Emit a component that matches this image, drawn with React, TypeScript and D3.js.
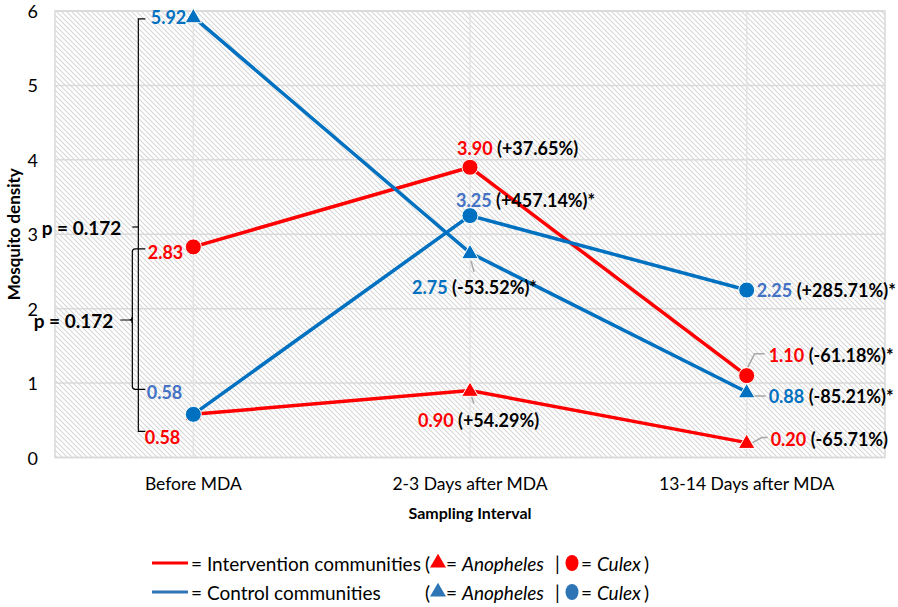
import React from "react";
import * as d3 from "d3";

const categories = ["Before MDA", "2-3 Days after MDA", "13-14 Days after MDA"];

const interventionAnopheles = [0.58, 0.9, 0.2];
const interventionCulex = [2.83, 3.9, 1.1];
const controlAnopheles = [5.92, 2.75, 0.88];
const controlCulex = [0.58, 3.25, 2.25];

const interventionAnophelesPct = ["", "(+54.29%)", "(-65.71%)"];
const interventionCulexPct = ["", "(+37.65%)", "(-61.18%)*"];
const controlAnophelesPct = ["", "(-53.52%)*", "(-85.21%)*"];
const controlCulexPct = ["", "(+457.14%)*", "(+285.71%)*"];

const yTicks = [0, 1, 2, 3, 4, 5, 6];
const pLabel = "p = 0.172";

const W = 898;
const H = 607;
const FONT = "Lato, 'Open Sans', sans-serif";
const RED = "#ff0000";
const BLUE = "#0070c0";
const LIGHT_BLUE = "#4472c4";

type Label = { dx: number; dy: number; anchor: "start" | "end"; leader?: [number, number][] };

// label offsets relative to the point, per series and category
const labelsIA: Label[] = [
  { dx: -13, dy: 23, anchor: "end" },
  { dx: -52, dy: 29, anchor: "start", leader: [[1, 5], [4, 13]] },
  { dx: 24, dy: -4, anchor: "start", leader: [[6, 0], [15, -5], [21, -5]] },
];
const labelsIC: Label[] = [
  { dx: -10, dy: 5, anchor: "end" },
  { dx: -13, dy: -19, anchor: "start" },
  { dx: 22, dy: -21, anchor: "start", leader: [[1, -8], [8, -22], [18, -22]] },
];
const labelsCA: Label[] = [
  { dx: -7, dy: 0, anchor: "end" },
  { dx: -58, dy: 34, anchor: "start", leader: [[1, 8], [4, 19]] },
  { dx: 22, dy: 4, anchor: "start", leader: [[6, 4], [19, 4]] },
];
const labelsCC: Label[] = [
  { dx: -11, dy: -22, anchor: "end" },
  { dx: -14, dy: -16, anchor: "start" },
  { dx: 10, dy: 0, anchor: "start" },
];

const App = () => {
  const margin = { left: 55, right: 13, top: 11, bottom: 149.5 };
  const x = d3
    .scalePoint<string>()
    .domain(categories)
    .range([margin.left, W - margin.right])
    .padding(0.5);
  const y = d3.scaleLinear().domain([0, 6]).range([H - margin.bottom, margin.top]);
  const x0 = margin.left;
  const x1 = W - margin.right;

  const line = d3
    .line<number>()
    .x((_, i) => x(categories[i]) as number)
    .y((d) => y(d));

  const series = [
    { values: interventionAnopheles, pct: interventionAnophelesPct, color: RED, labelColor: RED, shape: "tri", labels: labelsIA },
    { values: interventionCulex, pct: interventionCulexPct, color: RED, labelColor: RED, shape: "circle", labels: labelsIC },
    { values: controlAnopheles, pct: controlAnophelesPct, color: BLUE, labelColor: BLUE, shape: "tri", labels: labelsCA },
    { values: controlCulex, pct: controlCulexPct, color: BLUE, labelColor: LIGHT_BLUE, shape: "circle", labels: labelsCC },
  ];

  const tri = d3.symbol().type(d3.symbolTriangle).size(120);

  // brackets for the p-values
  const bx = x(categories[0]) as number;
  const big = { top: y(controlAnopheles[0]) + 2, bottom: y(interventionAnopheles[0]) + 17, vx: bx - 55 };
  const small = { top: y(interventionCulex[0]) + 2, bottom: y(controlCulex[0]) - 25, vx: bx - 61 };
  const bigMid = 227;
  const smallMid = 320;

  return (
    <svg width={W} height={H} style={{ position: "absolute", left: 0, top: 0, fontFamily: FONT }}>
      <defs>
        <pattern id="hatch" width="5" height="5" patternUnits="userSpaceOnUse">
          <path d="M-1,4 l2,2 M0,0 l5,5 M4,-1 l2,2" stroke="#d6d6d6" strokeWidth="1.1" />
        </pattern>
      </defs>
      <rect x={0} y={0} width={W} height={H} fill="#fff" />
      <rect x={x0} y={y(6)} width={x1 - x0} height={y(0) - y(6)} fill="url(#hatch)" />

      {yTicks.map((t) => (
        <line key={"g" + t} x1={x0} x2={x1} y1={y(t)} y2={y(t)} stroke="#dadada" strokeWidth={1.5} />
      ))}
      {categories.map((c) => (
        <line key={"v" + c} x1={x(c)} x2={x(c)} y1={y(6)} y2={y(0)} stroke="#e3e3e3" strokeWidth={1.5} />
      ))}
      <rect x={x0} y={y(6)} width={x1 - x0} height={y(0) - y(6)} fill="none" stroke="#d9d9d9" strokeWidth={1.5} />

      {yTicks.map((t) => (
        <text key={"yt" + t} x={38} y={y(t)} textAnchor="end" dominantBaseline="central" fontSize={18} fill="#000">
          {t}
        </text>
      ))}
      {categories.map((c) => (
        <text key={"xt" + c} x={x(c)} y={483} textAnchor="middle" dominantBaseline="central" fontSize={17.5} fill="#000">
          {c}
        </text>
      ))}
      <text
        transform={`translate(13,${(y(0) + y(6)) / 2}) rotate(-90)`}
        textAnchor="middle"
        dominantBaseline="central"
        fontSize={17}
        fontWeight="bold"
      >
        Mosquito density
      </text>
      <text x={(x0 + x1) / 2} y={512} textAnchor="middle" dominantBaseline="central" fontSize={16} fontWeight="bold">
        Sampling Interval
      </text>

      {/* brackets */}
      <g stroke="#000" strokeWidth={1.2} fill="none">
        <path d={`M${big.vx + 7},${big.top} H${big.vx} V${big.bottom} H${big.vx + 7}`} />
        <path d={`M${big.vx},${bigMid} H${big.vx - 6}`} />
        <path d={`M${small.vx + 13},${small.top} H${small.vx + 3} Q${small.vx},${small.top} ${small.vx},${small.top + 3} V${small.bottom - 3} Q${small.vx},${small.bottom} ${small.vx + 3},${small.bottom} H${small.vx + 13}`} />
        <path d={`M${small.vx},${smallMid - 3} Q${small.vx},${smallMid} ${small.vx - 3},${smallMid} H${small.vx - 12} M${small.vx - 3},${smallMid} Q${small.vx},${smallMid} ${small.vx},${smallMid + 3}`} />
      </g>

      {series.map((s, si) => (
        <path key={"l" + si} d={line(s.values) || ""} fill="none" stroke={s.color} strokeWidth={3.5} />
      ))}

      {/* leader lines */}
      {series.map((s, si) =>
        s.labels.map((lb, i) =>
          lb.leader ? (
            <polyline
              key={`ld${si}-${i}`}
              points={lb.leader.map(([dx, dy]) => `${(x(categories[i]) as number) + dx},${y(s.values[i]) + dy}`).join(" ")}
              fill="none"
              stroke="#a6a6a6"
              strokeWidth={1.5}
            />
          ) : null
        )
      )}

      {series.map((s, si) =>
        s.values.map((v, i) =>
          s.shape === "circle" ? (
            <circle key={`m${si}-${i}`} cx={x(categories[i])} cy={y(v)} r={8} fill={s.color} stroke="#fff" strokeWidth={1} />
          ) : (
            <path
              key={`m${si}-${i}`}
              d={tri() || ""}
              transform={`translate(${x(categories[i])},${y(v) + 1})`}
              fill={s.color}
              stroke="#fff"
              strokeWidth={1}
            />
          )
        )
      )}

      {series.map((s, si) =>
        s.values.map((v, i) => {
          const lb = s.labels[i];
          return (
            <text
              key={`t${si}-${i}`}
              x={(x(categories[i]) as number) + lb.dx}
              y={y(v) + lb.dy}
              textAnchor={lb.anchor}
              dominantBaseline="central"
              fontSize={18}
              fontWeight="bold"
            >
              <tspan fill={s.labelColor}>{v.toFixed(2)}</tspan>
              {s.pct[i] ? <tspan fill="#000">{" " + s.pct[i]}</tspan> : null}
            </text>
          );
        })
      )}

      <text x={big.vx - 17} y={bigMid} textAnchor="end" dominantBaseline="central" fontSize={19} fontWeight="bold">
        {pLabel}
      </text>
      <text x={small.vx - 19} y={smallMid} textAnchor="end" dominantBaseline="central" fontSize={19} fontWeight="bold">
        {pLabel}
      </text>

      {/* legend */}
      {[
        { y: 563, color: RED, text: "= Intervention communities", marker: "#ff0000" },
        { y: 592, color: "#2e75b6", text: "= Control communities", marker: "#2e75b6" },
      ].map((r) => (
        <g key={r.text} fontSize={19}>
          <line x1={152} x2={188} y1={r.y} y2={r.y} stroke={r.color} strokeWidth={3} />
          <text x={191} y={r.y} dominantBaseline="central">{r.text}</text>
          <text x={425} y={r.y} dominantBaseline="central">(</text>
          <path d={d3.symbol().type(d3.symbolTriangle).size(110)() || ""} transform={`translate(438,${r.y})`} fill={r.marker} />
          <text x={446} y={r.y} dominantBaseline="central">
            = <tspan fontStyle="italic">Anopheles</tspan>
          </text>
          <text x={555} y={r.y} dominantBaseline="central">|</text>
          <ellipse cx={572} cy={r.y} rx={6.5} ry={8} fill={r.marker} />
          <text x={581} y={r.y} dominantBaseline="central">
            = <tspan fontStyle="italic">Culex</tspan>
          </text>
          <text x={644} y={r.y} dominantBaseline="central">)</text>
        </g>
      ))}
    </svg>
  );
};

export default App;
